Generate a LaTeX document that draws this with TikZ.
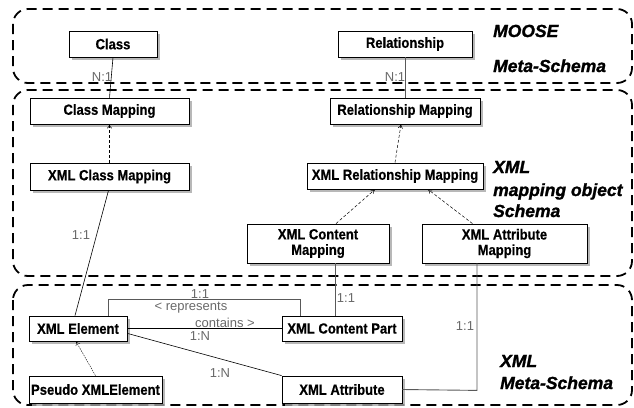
\documentclass[tikz,border=0pt]{standalone}
\usepackage{fontspec}
\usetikzlibrary{shadows,calc,arrows.meta}
\newfontfamily\boxfont[FakeStretch=0.88,FakeBold=0.4]{Liberation Sans}
\newfontfamily\lblfont{Liberation Sans}
\newfontfamily\titlefont[FakeBold=1.4]{Liberation Sans}
\definecolor{lblgray}{RGB}{105,105,105}
\tikzset{
  container/.style={line width=1.8pt, dash pattern=on 10pt off 6pt, rounded corners=15pt},
  umlbox/.style={draw, fill=white, line width=0.8pt, inner sep=0pt, align=center,
     font=\boxfont\bfseries\fontsize{14.8}{15.5}\selectfont,
     drop shadow={shadow xshift=3pt, shadow yshift=-3pt, fill=black!35, opacity=0.8}},
  assoc/.style={line width=0.6pt},
  grayassoc/.style={line width=0.9pt, draw=black!65},
  refine/.style={line width=0.5pt, dash pattern=on 3pt off 2pt, -{To[length=4pt,width=5pt]}},
  lbl/.style={font=\lblfont\fontsize{13}{14}\selectfont, text=lblgray, inner sep=0pt},
  ttl/.style={font=\titlefont\bfseries\itshape\fontsize{17.5}{18}\selectfont, anchor=base west, inner sep=0pt}
}
\begin{document}
\begin{tikzpicture}[x=1pt,y=-1pt]
\useasboundingbox (0,0) rectangle (634,407);
% containers
\draw[container] (13,9) rectangle (632,83);
\draw[container] (13,90) rectangle (632,276);
\draw[container] (13,285) rectangle (632,405);
% titles
\node[ttl] (t1) at (493,37) {MOOSE};
\node[ttl] (t2) at (493,72) {Meta-Schema};
\node[ttl] (t3) at (493,173) {XML};
\node[ttl] (t4) at (493,196) {mapping object};
\node[ttl] (t5) at (493,217) {Schema};
\node[ttl] (t6) at (500,367) {XML};
\node[ttl] (t7) at (500,389) {Meta-Schema};
% boxes
\node[umlbox, minimum width=88pt, minimum height=26pt] (class) at (113,44) {Class};
\node[umlbox, minimum width=134pt, minimum height=26pt] (rel) at (405,44) {Relationship};
\node[umlbox, minimum width=159pt, minimum height=26pt] (cm) at (109.5,111) {Class Mapping};
\node[umlbox, minimum width=150pt, minimum height=26pt] (rm) at (405,111) {Relationship Mapping};
\node[umlbox, minimum width=159pt, minimum height=27pt] (xcm) at (109.5,176.5) {XML Class Mapping};
\node[umlbox, minimum width=176pt, minimum height=26pt] (xrm) at (395,176) {XML Relationship Mapping};
\node[umlbox, minimum width=142pt, minimum height=39pt] (xcontm) at (318,243.5) {XML Content\\Mapping};
\node[umlbox, minimum width=165pt, minimum height=39pt] (xattm) at (504.5,243.5) {XML Attribute\\Mapping};
\node[umlbox, minimum width=98pt, minimum height=25pt] (xe) at (78,328.5) {XML Element};
\node[umlbox, minimum width=120pt, minimum height=25pt] (xcp) at (342,328.5) {XML Content Part};
\node[umlbox, minimum width=133pt, minimum height=27pt] (pxe) at (95.5,389.5) {Pseudo XMLElement};
\node[umlbox, minimum width=120pt, minimum height=27pt] (xa) at (342,389.5) {XML Attribute};
% connectors
\draw[assoc] (class.south) -- (cm.north);
\draw[grayassoc] (rel.south) -- (rm.north);
\draw[refine] (xcm.north) -- (cm.south);
\draw[refine] (xrm.north) -- ($(rm.south)+(-4,0)$);
\draw[refine] ($(xcontm.north)+(18,0)$) -- ($(xrm.south)+(-20,0)$);
\draw[refine] ($(xattm.north)+(-32,0)$) -- ($(xrm.south)+(33,0)$);
\draw[assoc] ($(xcm.south)+(-1,0)$) -- ($(xe.north)+(-3,0)$);
\draw[grayassoc] ($(xcontm.south)+(17,0)$) -- ($(xcp.north)+(-7,0)$);
\coordinate (bend) at ($(xattm.south)+(-27.5,127)$);
\draw[grayassoc] (xa.east) -- (bend) -- ($(xattm.south)+(-27.5,0)$);
\coordinate (r1) at ($(xe.north)+(30,-16)$);
\coordinate (r2) at ($(xcp.north)+(-42,-16)$);
\draw[grayassoc] ($(xe.north)+(30,0)$) -- (r1) -- (r2) -- ($(xcp.north)+(-42,0)$);
\draw[assoc] (xe.east) -- (xcp.west);
\draw[assoc] ($(xe.south east)+(0,-8)$) -- (xa.north west);
\draw[line width=0.4pt, dash pattern=on 1.5pt off 1pt, -{To[length=4pt,width=5pt]}] (pxe.north) -- ($(xe.south)+(-2,0)$);
% labels
\node[lbl] (l1) at (102,77) {N:1};
\node[lbl] (l2) at (395,77) {N:1};
\node[lbl] (l3) at (81,235) {1:1};
\node[lbl] (l4) at (346,298) {1:1};
\node[lbl] (l5) at (465,326) {1:1};
\node[lbl] (l6) at (200,294) {1:1};
\node[lbl] (l7) at (191,307.5) {< represents};
\node[lbl] (l8) at (225,322.5) {contains >};
\node[lbl] (l9) at (200,336) {1:N};
\node[lbl] (l10) at (220,373) {1:N};
\end{tikzpicture}
\end{document}
